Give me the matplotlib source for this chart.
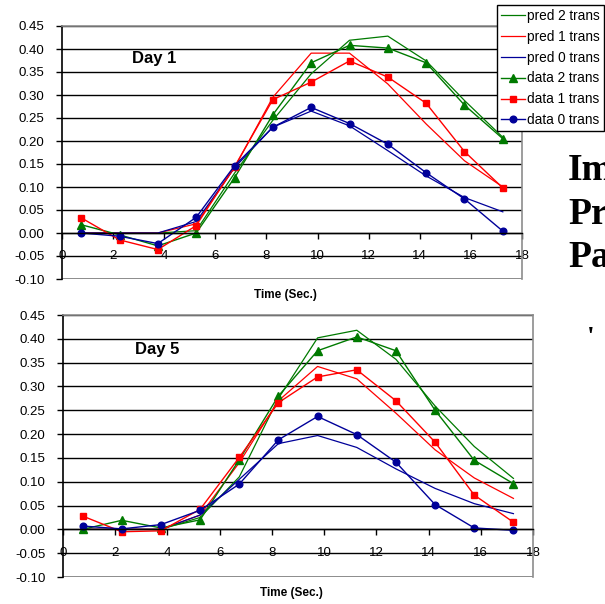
import matplotlib
matplotlib.use("Agg")
import matplotlib.pyplot as plt
from matplotlib.ticker import FixedLocator, FormatStrFormatter

plt.rcParams['font.family'] = ['Liberation Sans', 'DejaVu Sans']

# sample times (sec.)
t = [0.75, 2.25, 3.75, 5.25, 6.75, 8.25, 9.75, 11.25, 12.75, 14.25, 15.75, 17.25]

# Day 1
d1_pred2 = [0.0, 0.0, 0.0, 0.005, 0.13, 0.245, 0.346, 0.419, 0.428, 0.374, 0.288, 0.208]
d1_pred1 = [0.0, 0.0, 0.0, 0.02, 0.142, 0.295, 0.391, 0.391, 0.324, 0.237, 0.157, 0.10]
d1_pred0 = [0.0, 0.0, 0.0, 0.025, 0.142, 0.23, 0.265, 0.233, 0.179, 0.124, 0.077, 0.046]
d1_data2 = [0.018, -0.004, -0.028, 0.0, 0.12, 0.257, 0.37, 0.408, 0.402, 0.37, 0.278, 0.205]
d1_data1 = [0.033, -0.015, -0.036, 0.016, 0.144, 0.29, 0.328, 0.374, 0.339, 0.282, 0.177, 0.098]
d1_data0 = [0.0, -0.007, -0.023, 0.034, 0.146, 0.23, 0.273, 0.238, 0.193, 0.131, 0.074, 0.004]

# Day 5
d5_pred2 = [0.0, 0.0, 0.0, 0.025, 0.11, 0.275, 0.402, 0.418, 0.357, 0.259, 0.174, 0.107]
d5_pred1 = [0.0, 0.0, 0.0, 0.03, 0.14, 0.27, 0.342, 0.316, 0.244, 0.167, 0.108, 0.065]
d5_pred0 = [0.0, 0.0, 0.0, 0.03, 0.105, 0.18, 0.197, 0.172, 0.127, 0.086, 0.054, 0.033]
d5_data2 = [0.0, 0.019, 0.003, 0.02, 0.146, 0.28, 0.375, 0.404, 0.375, 0.25, 0.145, 0.096]
d5_data1 = [0.028, -0.005, -0.003, 0.042, 0.151, 0.266, 0.32, 0.335, 0.27, 0.183, 0.072, 0.015]
d5_data0 = [0.007, 0.001, 0.01, 0.04, 0.095, 0.188, 0.237, 0.199, 0.141, 0.052, 0.003, -0.002]

x_ticks = [0, 2, 4, 6, 8, 10, 12, 14, 16, 18]
y_ticks = [-0.10, -0.05, 0.0, 0.05, 0.10, 0.15, 0.20, 0.25, 0.30, 0.35, 0.40, 0.45]

GREEN = '#007a00'
RED = '#ff0000'
BLUE = '#000099'

fig = plt.figure(figsize=(6.05, 6.04), dpi=100)
W, H = 605, 604


def px_axes(l, t_, r, b):
    return fig.add_axes([l / W, 1 - b / H, (r - l) / W, (b - t_) / H])


def draw_panel(ax, pred, data, title):
    p2, p1, p0 = pred
    s2, s1, s0 = data
    ax.plot(t, p2, color=GREEN, lw=0.9, label='pred 2 trans')
    ax.plot(t, p1, color=RED, lw=0.9, label='pred 1 trans')
    ax.plot(t, p0, color=BLUE, lw=0.9, label='pred 0 trans')
    ax.plot(t, s2, color=GREEN, lw=1.0, marker='^', ms=5.5, label='data 2 trans')
    ax.plot(t, s1, color=RED, lw=1.0, marker='s', ms=4.8, label='data 1 trans')
    ax.plot(t, s0, color=BLUE, lw=1.0, marker='o', ms=4.8, label='data 0 trans')

    ax.set_xlim(0, 18)
    ax.set_ylim(-0.10, 0.45)
    ax.xaxis.set_major_locator(FixedLocator(x_ticks))
    ax.yaxis.set_major_locator(FixedLocator(y_ticks))
    ax.yaxis.set_major_formatter(FormatStrFormatter('%.2f'))
    ax.set_xticklabels([str(v) for v in x_ticks])

    ax.spines['bottom'].set_position(('data', 0))
    ax.spines['bottom'].set_linewidth(1.0)
    ax.spines['left'].set_linewidth(1.2)
    for s in ('top', 'right'):
        ax.spines[s].set_color('#8c8c8c')
        ax.spines[s].set_linewidth(1.2)

    ax.tick_params(axis='x', direction='out', length=4, width=1.0,
                   pad=8.5, labelsize=9.5)
    ax.tick_params(axis='y', direction='out', length=4.5, width=1.0,
                   pad=8, labelsize=9.5)

    ax.yaxis.grid(True, color='black', lw=1.0)
    ax.set_axisbelow(True)
    gl = ax.get_ygridlines()
    gl[0].set_color('#8c8c8c')
    gl[0].set_linewidth(1.4)

    ax.text(0.2, 0.87, title, transform=ax.transAxes, ha='center', va='center',
            fontsize=12, fontweight='bold')
    ax.text(0.486, -0.062, 'Time (Sec.)', transform=ax.transAxes,
            ha='center', va='center', fontsize=8.5, fontweight='bold')


ax1 = px_axes(62, 26, 522, 279)
draw_panel(ax1, (d1_pred2, d1_pred1, d1_pred0), (d1_data2, d1_data1, d1_data0), 'Day 1')

ax2 = px_axes(63, 315, 533, 577)
draw_panel(ax2, (d5_pred2, d5_pred1, d5_pred0), (d5_data2, d5_data1, d5_data0), 'Day 5')

handles, labels = ax1.get_legend_handles_labels()
leg = fig.legend(handles, labels, loc='upper right',
                 bbox_to_anchor=(604 / W, 1 - 5 / H), fontsize=9.8,
                 frameon=True, fancybox=False, edgecolor='black',
                 framealpha=1, borderpad=0.3, labelspacing=0.5,
                 handlelength=1.75, handletextpad=0.15, borderaxespad=0)
leg.get_frame().set_linewidth(1.0)

# clipped slide text on the right
for word, yb in (('Im', 180), ('Pr', 224), ('Pa', 267)):
    fig.text(568 / W, 1 - yb / H, word, ha='left', va='baseline',
             fontsize=27, fontweight='bold', family='Liberation Serif')
fig.text(587 / W, 1 - 345 / H, "'", ha='left', va='baseline',
         fontsize=20, fontweight='bold', family='Liberation Serif')

fig.savefig('out.png', dpi=100)
